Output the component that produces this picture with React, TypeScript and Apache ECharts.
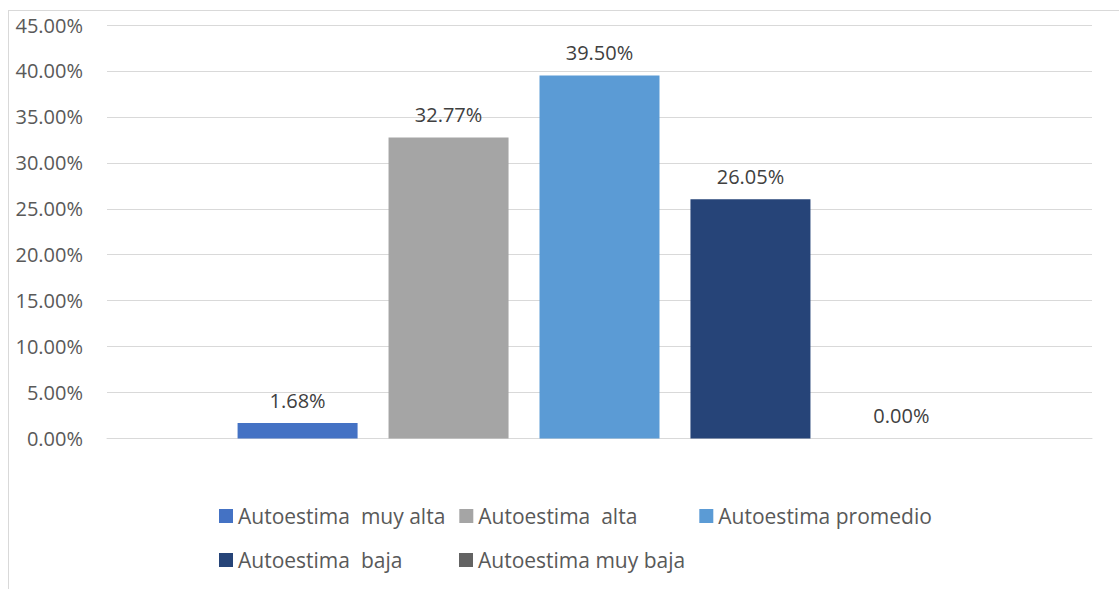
import React, { useEffect, useRef } from "react";
import * as echarts from "echarts";

const seriesNames = [
  "Autoestima  muy alta",
  "Autoestima  alta",
  "Autoestima promedio",
  "Autoestima  baja",
  "Autoestima muy baja",
];
const seriesValues = [1.68, 32.77, 39.5, 26.05, 0.0];
const seriesColors = ["#4472C4", "#A5A5A5", "#5B9BD5", "#264478", "#636363"];
const categories = [""];

const FONT = "'Open Sans', 'Noto Sans', sans-serif";

export default function App() {
  const ref = useRef<HTMLDivElement>(null);
  useEffect(() => {
    if (!ref.current) return;
    const chart = echarts.init(ref.current, undefined, { renderer: "svg" });
    chart.setOption({
      animation: false,
      backgroundColor: "#ffffff",
      grid: { left: 107, right: 27, top: 25, bottom: 150.5, containLabel: false },
      xAxis: {
        type: "category",
        data: categories,
        axisLine: { show: true, lineStyle: { color: "#D9D9D9", width: 1 } },
        axisTick: { show: false },
        axisLabel: { show: false },
      },
      yAxis: {
        type: "value",
        min: 0,
        max: 45,
        interval: 5,
        axisLine: { show: false },
        axisTick: { show: false },
        splitLine: { lineStyle: { color: "#D9D9D9", width: 1 } },
        axisLabel: {
          margin: 24,
          color: "#595959",
          fontSize: 20,
          fontFamily: FONT,
          formatter: (v: number) => v.toFixed(2) + "%",
        },
      },
      legend: {
        left: 219,
        top: 501,
        width: 730,
        padding: 0,
        itemWidth: 14,
        itemHeight: 14,
        itemGap: 14,
        icon: "rect",
        data: seriesNames,
        textStyle: {
          color: "#595959",
          fontSize: 21,
          fontFamily: FONT,
          width: 207,
          lineHeight: 30,
        },
      },
      graphic: [
        {
          type: "line",
          shape: { x1: 8, y1: 10.5, x2: 1119, y2: 10.5 },
          style: { stroke: "#D9D9D9", lineWidth: 1 },
        },
        {
          type: "line",
          shape: { x1: 8.5, y1: 10, x2: 8.5, y2: 589 },
          style: { stroke: "#D9D9D9", lineWidth: 1 },
        },
      ],
      series: seriesNames.map((name, i) => ({
        name,
        type: "bar",
        data: [seriesValues[i]],
        barWidth: 120,
        barGap: "25.8%",
        itemStyle: { color: seriesColors[i] },
        label: {
          show: true,
          position: "top",
          distance: 13,
          color: "#404040",
          fontSize: 20,
          fontFamily: FONT,
          formatter: (p: any) => Number(p.value).toFixed(2) + "%",
        },
      })),
    });
    return () => chart.dispose();
  }, []);
  return (
    <div
      ref={ref}
      style={{ position: "absolute", left: 0, top: 0, width: 1119, height: 589 }}
    />
  );
}
